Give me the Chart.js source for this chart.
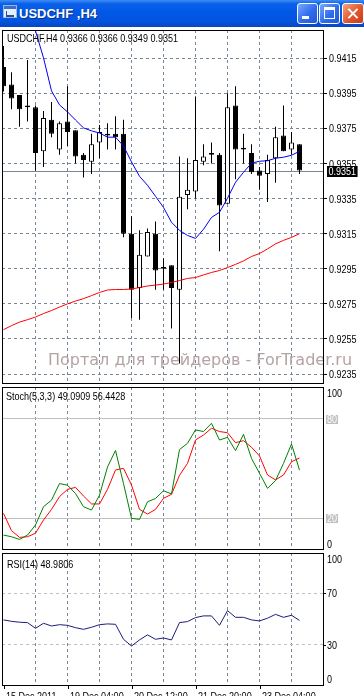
<!DOCTYPE html>
<html>
<head>
<meta charset="utf-8">
<script src="https://cdn.jsdelivr.net/npm/chart.js@4.4.0/dist/chart.umd.min.js"></script>
<style>
html, body { margin: 0; padding: 0; background: #fff; }
body { width: 364px; height: 696px; position: relative; overflow: hidden; }
#tb { position: absolute; left: 0; top: 0; width: 364px; height: 27px;
  background: linear-gradient(to bottom, #3d8ef8 0%, #0a60e8 14%, #0058e6 45%, #0454de 80%, #0a46c0 100%); }
#ico { position: absolute; left: 3px; top: 5px; width: 12px; height: 11px; background: #e8eefa; border: 1px solid #9db4de; }
#ico i { position: absolute; left: 0; top: 0; width: 12px; height: 3px; background: #3a6fd0; }
#ico b { position: absolute; left: 2px; top: 5px; width: 7px; height: 4px; border-bottom: 2px solid #2050a0; border-left: 1px solid #2050a0; }
#tt { position: absolute; left: 19px; top: 6px; color: #fff; font: bold 13px 'Liberation Sans', Arial, sans-serif; text-shadow: 1px 1px 0 #0b2f8a; white-space: nowrap; }
.btn { position: absolute; top: 3px; width: 19px; height: 19px; border: 1px solid #fff; border-radius: 3px; }
#bmin { left: 297px; background: linear-gradient(135deg, #7aa9ff, #2f6cec 55%, #2258d4); }
#bmax { left: 319px; background: linear-gradient(135deg, #7aa9ff, #2f6cec 55%, #2258d4); }
#bcls { left: 342px; width: 20px; background: linear-gradient(135deg, #f3a583, #e2552c 55%, #c83c18); }
#bmin i { position: absolute; left: 4px; top: 12px; width: 7px; height: 3px; background: #fff; }
#bmax i { position: absolute; left: 4px; top: 3px; width: 9px; height: 8px; border: 1px solid #fff; border-top-width: 3px; }
#bcls i, #bcls b { position: absolute; left: 9px; top: 3px; width: 2px; height: 13px; background: #fff; }
#bcls i { transform: rotate(45deg); }
#bcls b { transform: rotate(-45deg); }
canvas { position: absolute; left: 0; }
</style>
</head>
<body>
<div id="tb">
  <div id="ico"><i></i><b></b></div>
  <div id="tt">USDCHF ,H4</div>
  <div class="btn" id="bmin"><i></i></div>
  <div class="btn" id="bmax"><i></i></div>
  <div class="btn" id="bcls"><i></i><b></b></div>
</div>
<canvas id="main" width="364" height="357" style="top:28px"></canvas>
<canvas id="stoch" width="364" height="166" style="top:385px"></canvas>
<canvas id="rsi" width="364" height="145" style="top:551px"></canvas>
<script>
// USDCHF H4 - Kerzen, MAs, Stochastic und RSI
const SYMBOL = 'USDCHF,H4';
const TIME_LABELS = ['15 Dec 2011', '19 Dec 04:00', '20 Dec 12:00', '21 Dec 20:00', '23 Dec 04:00'];
const TIME_LABEL_BARS = [0, 8, 16, 24, 32];
const GRID_BARS = [4, 8, 12, 16, 20, 24, 28, 32, 36];

const OPEN = [0.9410, 0.9400, 0.9394, 0.9387, 0.9387, 0.9362, 0.9380, 0.9363, 0.9379, 0.9374,
  0.9360, 0.9356, 0.9367, 0.9372, 0.9372, 0.9372, 0.9315, 0.9284, 0.9302, 0.9315,
  0.9296, 0.9297, 0.9283, 0.9337, 0.9339, 0.9356, 0.9361, 0.9360, 0.9332, 0.9388,
  0.9364, 0.9361, 0.9351, 0.9349, 0.9358, 0.9371, 0.9363, 0.9366];
const HIGH = [0.9422, 0.9407, 0.9394, 0.9414, 0.9388, 0.9385, 0.9390, 0.9379, 0.9399, 0.9374,
  0.9361, 0.9372, 0.9377, 0.9378, 0.9382, 0.9380, 0.9325, 0.9317, 0.9318, 0.9322,
  0.9301, 0.9297, 0.9359, 0.9358, 0.9393, 0.9366, 0.9367, 0.9361, 0.9395, 0.9399,
  0.9372, 0.9366, 0.9353, 0.9360, 0.9376, 0.9388, 0.9373, 0.9366];
const LOW = [0.9396, 0.9386, 0.9376, 0.9379, 0.9351, 0.9353, 0.9370, 0.9360, 0.9365, 0.9355,
  0.9347, 0.9349, 0.9358, 0.9363, 0.9363, 0.9313, 0.9267, 0.9266, 0.9302, 0.9283,
  0.9283, 0.9261, 0.9241, 0.9329, 0.9335, 0.9354, 0.9355, 0.9305, 0.9332, 0.9346,
  0.9355, 0.9349, 0.9340, 0.9333, 0.9344, 0.9362, 0.9360, 0.9349];
const CLOSE = [0.9399, 0.9392, 0.9386, 0.9388, 0.9361, 0.9381, 0.9372, 0.9378, 0.9373, 0.9359,
  0.9357, 0.9366, 0.9373, 0.9371, 0.9370, 0.9315, 0.9283, 0.9303, 0.9316, 0.9294,
  0.9295, 0.9284, 0.9336, 0.9340, 0.9357, 0.9359, 0.9360, 0.9331, 0.9387, 0.9363,
  0.9363, 0.9350, 0.9348, 0.9357, 0.9370, 0.9362, 0.9367, 0.9351];

const MA_BLUE = [null, null, null, 0.9446, 0.94306, 0.94152, 0.93964, 0.93884, 0.93844, 0.93798,
  0.93753, 0.93736, 0.93724, 0.93700, 0.93700, 0.93650, 0.93559, 0.93477, 0.93426, 0.93363,
  0.93300, 0.93215, 0.93169, 0.93140, 0.93123, 0.93175, 0.93243, 0.93272, 0.93352, 0.93443,
  0.93500, 0.93552, 0.93563, 0.93566, 0.93580, 0.93586, 0.93597, 0.93620];
const MA_RED = [0.92603, 0.92626, 0.92646, 0.92660, 0.92675, 0.92695, 0.92712, 0.92732, 0.92750, 0.92766,
  0.92780, 0.92797, 0.92815, 0.92829, 0.92832, 0.92832, 0.92835, 0.92843, 0.92852, 0.92857,
  0.92863, 0.92872, 0.92883, 0.92895, 0.92900, 0.92915, 0.92929, 0.92940, 0.92957, 0.92975,
  0.92995, 0.93020, 0.93037, 0.93063, 0.93092, 0.93112, 0.93129, 0.93150];

const STOCH_MAIN = [9.9, 8.9, 7.3, 9.9, 16, 27, 31, 41, 40, 35,
  27, 25, 34, 51, 61, 41, 20, 19.4, 30, 32,
  36.7, 34.7, 61.5, 65.3, 73.4, 72.4, 77.4, 67.3, 68.9, 60.9,
  70.7, 56.2, 47.2, 38.1, 42.8, 53.2, 64.9, 49.0909];
const STOCH_SIGNAL = [23, 12.6, 8.5, 8.9, 11, 19, 25.4, 33.1, 37.5, 38.7,
  33.5, 28.7, 28.7, 37.5, 49.2, 50.2, 40.1, 25.4, 22.6, 25.4,
  32.1, 34.5, 46, 53.2, 67.3, 70.3, 74.4, 72.4, 71.7, 65.7,
  66.9, 62.9, 57.7, 46.2, 43.2, 46.2, 54.2, 56.4428];
const RSI = [49.4, 48.3, 47.6, 47.3, 42.9, 46.8, 44.7, 45.7, 45.2, 43.4,
  42.1, 43.7, 45.7, 46.3, 46, 34.4, 29.2, 33.9, 37.8, 34.4,
  35.4, 33.9, 47.3, 48.1, 51.2, 52.5, 52.5, 45.2, 56.6, 51.4,
  51.4, 49.4, 48.6, 50.7, 53.7, 51.4, 53, 48.9806];

const PRICE_TICKS = [0.9235, 0.9255, 0.9275, 0.9295, 0.9315, 0.9335, 0.9355, 0.9375, 0.9395, 0.9415];
const STOCH_LEVELS = [20, 80];
const STOCH_LABELS = [0, 20, 80, 100];
const RSI_LEVELS = [30, 70];
const RSI_LABELS = [0, 30, 70, 100];
const WATERMARK = 'Портал для трейдеров - ForTrader.ru';

// Achsenbereiche
const X_MIN = -0.1875, X_MAX = 39.9375;
const PRICE_MIN = 0.92299, PRICE_MAX = 0.94311;
const STOCH_MIN = 1.5, STOCH_MAX = 99.3;
const RSI_MIN = -1, RSI_MAX = 101.2;

const FONT = "11px 'Liberation Sans', Arial, sans-serif";
const SX = 0.82; // schmale Schrift wie im Terminal
const GRID = '#778899';
const idx = OPEN.map((_, i) => i);
const last = a => a[a.length - 1];
const clamp = (v, lo, hi) => Math.max(lo, Math.min(hi, v));

function label(ctx, s, x, y, color) {
  ctx.save();
  ctx.font = FONT;
  ctx.translate(x, y);
  ctx.scale(SX, 1);
  ctx.fillStyle = color || '#000';
  ctx.fillText(s, 0, 0);
  ctx.restore();
}
function labelWidth(ctx, s) {
  ctx.save();
  ctx.font = FONT;
  const w = ctx.measureText(s).width * SX;
  ctx.restore();
  return w;
}

function xAxis() {
  return {
    type: 'linear', min: X_MIN, max: X_MAX, offset: false, bounds: 'data',
    afterBuildTicks: s => { s.ticks = GRID_BARS.map(v => ({ value: v })); },
    grid: { color: GRID, offset: false, drawTicks: false },
    border: { display: false, dash: [3, 3] },
    ticks: { display: false },
    afterFit: s => { s.height = 0; s.paddingLeft = 0; s.paddingRight = 0; }
  };
}

function sideAxis(min, max, levels, color, dash, ticks) {
  return {
    type: 'linear', position: 'right', min: min, max: max, bounds: 'data', beginAtZero: false,
    afterBuildTicks: s => { s.ticks = levels.map(v => ({ value: v })); },
    grid: { color: color, drawTicks: !!ticks, tickLength: 4, tickColor: '#000', tickWidth: 1, tickBorderDash: [] },
    border: { display: false, dash: dash },
    ticks: { display: false },
    afterFit: s => { s.width = 41; s.paddingTop = 0; s.paddingBottom = 0; }
  };
}

function options(yAxis, padding) {
  return {
    responsive: false, animation: false, devicePixelRatio: 1, events: [],
    layout: { padding: padding },
    plugins: { legend: { display: false }, tooltip: { enabled: false } },
    scales: { x: xAxis(), y: yAxis }
  };
}

const frame = {
  id: 'frame',
  afterDraw(chart) {
    const { ctx, chartArea: a } = chart;
    ctx.save();
    ctx.strokeStyle = '#000';
    ctx.lineWidth = 1;
    ctx.strokeRect(a.left + 0.5, a.top + 0.5, a.right - a.left, a.bottom - a.top);
    ctx.restore();
  }
};

function lineSet(values, color) {
  return {
    type: 'line', data: idx.map(i => ({ x: i, y: values[i] })),
    borderColor: color, borderWidth: 1, pointRadius: 0, tension: 0, order: 1
  };
}

// Hauptfenster
const mainDecor = {
  id: 'mainDecor',
  beforeDatasetsDraw(chart) {
    const { ctx, chartArea: a, scales: { y } } = chart;
    ctx.save();
    ctx.font = '16px "DejaVu Sans"';
    ctx.fillStyle = '#b3a4a4';
    ctx.fillText(WATERMARK, a.left + 46, a.bottom - 18);
    const py = Math.round(y.getPixelForValue(last(CLOSE))) + 0.5;
    ctx.strokeStyle = GRID;
    ctx.beginPath();
    ctx.moveTo(a.left, py);
    ctx.lineTo(a.right, py);
    ctx.stroke();
    ctx.restore();
  },
  afterDraw(chart) {
    const { ctx, chartArea: a, scales: { y } } = chart;
    ctx.save();
    ctx.textBaseline = 'middle';
    PRICE_TICKS.forEach(v => label(ctx, v.toFixed(4), a.right + 6, Math.round(y.getPixelForValue(v)) + 0.5));
    const py = Math.round(y.getPixelForValue(last(CLOSE)));
    const txt = last(CLOSE).toFixed(4);
    ctx.fillStyle = '#000';
    ctx.fillRect(a.right + 4, py - 5, labelWidth(ctx, txt) + 3, 11);
    label(ctx, txt, a.right + 5.5, py + 0.5, '#fff');
    ctx.textBaseline = 'alphabetic';
    const head = [SYMBOL, last(OPEN), last(HIGH), last(LOW), last(CLOSE)]
      .map(v => typeof v === 'number' ? v.toFixed(4) : v).join(' ');
    label(ctx, head, 7, a.top + 11.7);
    ctx.restore();
  }
};

new Chart(document.getElementById('main'), {
  type: 'bar',
  data: {
    datasets: [
      {
        data: idx.map(i => ({ x: i, y: [LOW[i], HIGH[i]] })),
        backgroundColor: '#000', borderWidth: 0, barThickness: 1,
        grouped: false, inflateAmount: 0, order: 3
      },
      {
        data: idx.map(i => ({ x: i, y: [OPEN[i], CLOSE[i]] })),
        backgroundColor: idx.map(i => CLOSE[i] > OPEN[i] ? '#fff' : '#000'),
        borderColor: '#000', borderWidth: 1, borderSkipped: false, barThickness: 5,
        grouped: false, inflateAmount: 0, minBarLength: 1, order: 2
      },
      lineSet(MA_BLUE, '#0000ee'),
      lineSet(MA_RED, '#ff0000')
    ]
  },
  options: options(sideAxis(PRICE_MIN, PRICE_MAX, PRICE_TICKS, GRID, [3, 3], true),
    { left: 2, top: 2, right: 0, bottom: 2 }),
  plugins: [mainDecor, frame]
});

// Stochastic
const stochDecor = {
  id: 'stochDecor',
  afterDraw(chart) {
    const { ctx, chartArea: a, scales: { y } } = chart;
    ctx.save();
    ctx.textBaseline = 'middle';
    STOCH_LABELS.forEach(v => {
      const py = Math.round(clamp(y.getPixelForValue(v), a.top + 6, a.bottom - 5)) + 0.5;
      const txt = String(v);
      if (STOCH_LEVELS.includes(v)) {
        ctx.fillStyle = '#c0c0c0';
        ctx.fillRect(a.right + 3, py - 4.5, labelWidth(ctx, txt) + 2, 9);
        label(ctx, txt, a.right + 4, py, '#fff');
      } else {
        label(ctx, txt, a.right + 4, py);
      }
    });
    ctx.textBaseline = 'alphabetic';
    label(ctx, 'Stoch(5,3,3) ' + last(STOCH_MAIN).toFixed(4) + ' ' + last(STOCH_SIGNAL).toFixed(4), 6, a.top + 13);
    ctx.restore();
  }
};

new Chart(document.getElementById('stoch'), {
  type: 'line',
  data: {
    datasets: [
      lineSet(STOCH_MAIN, '#008000'),
      lineSet(STOCH_SIGNAL, '#ff0000')
    ]
  },
  options: options(sideAxis(STOCH_MIN, STOCH_MAX, STOCH_LEVELS, '#c0c0c0', [], false),
    { left: 2, top: 2, right: 0, bottom: 2 }),
  plugins: [stochDecor, frame]
});

// RSI + Zeitachse
const rsiDecor = {
  id: 'rsiDecor',
  afterDraw(chart) {
    const { ctx, chartArea: a, scales: { x, y } } = chart;
    ctx.save();
    ctx.strokeStyle = '#000';
    ctx.lineWidth = 1;
    ctx.textBaseline = 'middle';
    RSI_LABELS.forEach(v => {
      const py = Math.round(clamp(y.getPixelForValue(v), a.top + 6, a.bottom - 6)) + 0.5;
      if (RSI_LEVELS.includes(v)) {
        ctx.beginPath();
        ctx.moveTo(a.right, py);
        ctx.lineTo(a.right + 3, py);
        ctx.stroke();
      }
      label(ctx, String(v), a.right + 4, py);
    });
    ctx.textBaseline = 'alphabetic';
    TIME_LABEL_BARS.forEach((b, k) => {
      const px = Math.round(x.getPixelForValue(b)) + 0.5;
      ctx.beginPath();
      ctx.moveTo(px, a.bottom);
      ctx.lineTo(px, a.bottom + 4);
      ctx.stroke();
      label(ctx, TIME_LABELS[k], px + 1.5, a.bottom + 14.6);
    });
    label(ctx, 'RSI(14) ' + last(RSI).toFixed(4), 7, a.top + 15.3);
    ctx.restore();
  }
};

new Chart(document.getElementById('rsi'), {
  type: 'line',
  data: { datasets: [lineSet(RSI, '#1c1c78')] },
  options: options(sideAxis(RSI_MIN, RSI_MAX, RSI_LEVELS, '#c0c0c0', [3, 3], false),
    { left: 2, top: 2, right: 0, bottom: 11 }),
  plugins: [rsiDecor, frame]
});
</script>
</body>
</html>
